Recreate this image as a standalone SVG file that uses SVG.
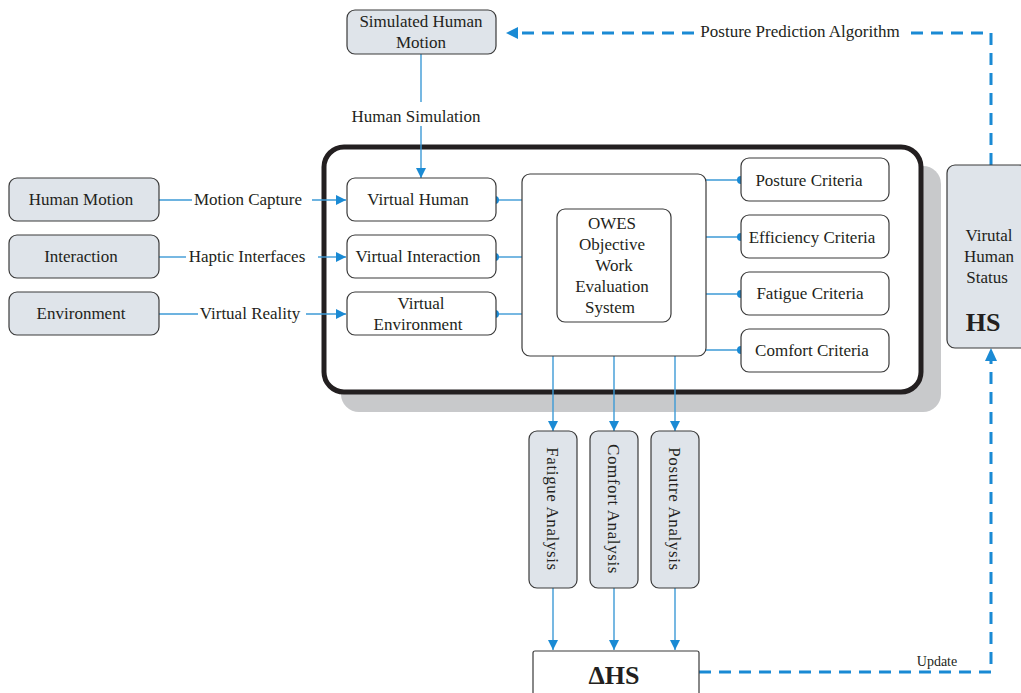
<svg xmlns="http://www.w3.org/2000/svg" width="1021" height="693" viewBox="0 0 1021 693">
<style>
text{font-family:"Liberation Serif","Times New Roman",serif;font-size:17px;fill:#231f20;text-anchor:middle}
.g{fill:#dfe4ea;stroke:#3a3a3a;stroke-width:1.2}
.w{fill:#fff;stroke:#3a3a3a;stroke-width:1.2}
.c{stroke:#3d9ad6;stroke-width:1.4;fill:none}
.d{stroke:#1a8ad4;stroke-width:3;fill:none;stroke-dasharray:12 8}
.dot{fill:#1a8ad4}
.b{font-weight:bold;font-size:26px}
</style>
<defs>
<marker id="a" viewBox="0 0 10 10" refX="10" refY="5" markerWidth="10" markerHeight="10" markerUnits="userSpaceOnUse" orient="auto"><path d="M0,0L10,5L0,10z" fill="#1a8ad4"/></marker>
</defs>
<rect width="1021" height="693" fill="#fff"/>
<g id="frame">
<rect x="341" y="166" width="600" height="246" rx="18" fill="#c8c9cb"/>
<rect x="324" y="147" width="597" height="245" rx="20" fill="#fff" stroke="#231f20" stroke-width="5"/>
</g>
<g id="connectors">
<line class="c" x1="421" y1="54" x2="421" y2="102"/>
<line class="c" x1="421" y1="126" x2="421" y2="178" marker-end="url(#a)"/>
<line class="c" x1="159" y1="200" x2="192" y2="200"/>
<line class="c" x1="312" y1="200" x2="346" y2="200" marker-end="url(#a)"/>
<line class="c" x1="159" y1="257" x2="186" y2="257"/>
<line class="c" x1="318" y1="257" x2="346" y2="257" marker-end="url(#a)"/>
<line class="c" x1="159" y1="314" x2="198" y2="314"/>
<line class="c" x1="306" y1="314" x2="346" y2="314" marker-end="url(#a)"/>
<line class="c" x1="496" y1="200" x2="522" y2="200"/>
<line class="c" x1="496" y1="257" x2="522" y2="257"/>
<line class="c" x1="496" y1="314" x2="522" y2="314"/>
<circle class="dot" cx="495" cy="200" r="4"/>
<circle class="dot" cx="495" cy="257" r="4"/>
<circle class="dot" cx="495" cy="314" r="4"/>
<line class="c" x1="706" y1="180" x2="741" y2="180"/>
<line class="c" x1="706" y1="237" x2="741" y2="237"/>
<line class="c" x1="706" y1="294" x2="741" y2="294"/>
<line class="c" x1="706" y1="350" x2="741" y2="350"/>
<circle class="dot" cx="741" cy="180" r="4"/>
<circle class="dot" cx="741" cy="237" r="4"/>
<circle class="dot" cx="741" cy="294" r="4"/>
<circle class="dot" cx="741" cy="350" r="4"/>
<line class="c" x1="553" y1="356" x2="553" y2="431" marker-end="url(#a)"/>
<line class="c" x1="614" y1="356" x2="614" y2="431" marker-end="url(#a)"/>
<line class="c" x1="675" y1="356" x2="675" y2="431" marker-end="url(#a)"/>
<line class="c" x1="553" y1="588" x2="553" y2="650" marker-end="url(#a)"/>
<line class="c" x1="614" y1="588" x2="614" y2="650" marker-end="url(#a)"/>
<line class="c" x1="675" y1="588" x2="675" y2="650" marker-end="url(#a)"/>
<path class="d" d="M991,165V33H910"/>
<line class="d" x1="694" y1="33" x2="516" y2="33"/>
<path d="M506,33L518,27L518,39z" fill="#1a8ad4"/>
<path class="d" d="M699,672H991V360"/>
<path d="M991,348L985,361L997,361z" fill="#1a8ad4"/>
<text x="800" y="37">Posture Prediction Algorithm</text>
<text x="937" y="666" style="font-size:14px">Update</text>
<text x="416" y="122">Human Simulation</text>
<text x="248" y="205">Motion Capture</text>
<text x="247" y="262">Haptic Interfaces</text>
<text x="250" y="319">Virtual Reality</text>
</g>
<g id="sim"><rect class="g" x="347" y="10" width="149" height="44" rx="8"/><text x="421" y="27">Simulated Human</text><text x="421" y="48">Motion</text></g>
<g id="hm"><rect class="g" x="9" y="178" width="150" height="43" rx="8"/><text x="81" y="205">Human Motion</text></g>
<g id="int"><rect class="g" x="9" y="235" width="150" height="43" rx="8"/><text x="81" y="262">Interaction</text></g>
<g id="env"><rect class="g" x="9" y="292" width="150" height="43" rx="8"/><text x="81" y="319">Environment</text></g>
<g id="vh"><rect class="w" x="347" y="178" width="149" height="43" rx="8"/><text x="418" y="205">Virtual Human</text></g>
<g id="vi"><rect class="w" x="347" y="235" width="149" height="43" rx="8"/><text x="418" y="262">Virtual Interaction</text></g>
<g id="ve"><rect class="w" x="347" y="292" width="149" height="43" rx="8"/><text x="421" y="309">Virtual</text><text x="418" y="330">Environment</text></g>
<g id="owes"><rect class="w" x="522" y="174" width="184" height="182" rx="8"/><rect class="w" x="557" y="209" width="114" height="113" rx="8"/>
<text x="612" y="229">OWES</text><text x="612" y="250">Objective</text><text x="614" y="271">Work</text><text x="612" y="292">Evaluation</text><text x="610" y="313">System</text></g>
<g id="pc"><rect class="w" x="741" y="158" width="148" height="43" rx="8"/><text x="809" y="186">Posture Criteria</text></g>
<g id="ec"><rect class="w" x="741" y="215" width="148" height="43" rx="8"/><text x="812" y="243">Efficiency Criteria</text></g>
<g id="fc"><rect class="w" x="741" y="272" width="148" height="43" rx="8"/><text x="810" y="299">Fatigue Criteria</text></g>
<g id="cc"><rect class="w" x="741" y="329" width="148" height="43" rx="8"/><text x="812" y="356">Comfort Criteria</text></g>
<g id="fa"><rect class="g" x="529" y="431" width="48" height="157" rx="8"/><text transform="translate(547,509) rotate(90)" style="letter-spacing:0.6px">Fatigue Analysis</text></g>
<g id="ca"><rect class="g" x="590" y="431" width="48" height="157" rx="8"/><text transform="translate(608,509) rotate(90)" style="letter-spacing:0.6px">Comfort Analysis</text></g>
<g id="pa"><rect class="g" x="651" y="431" width="48" height="157" rx="8"/><text transform="translate(669,509) rotate(90)" style="letter-spacing:0.6px">Posutre Analysis</text></g>
<g id="dhs"><rect class="w" x="533" y="651" width="166" height="50" rx="2"/><text class="b" x="614" y="684">ΔHS</text></g>
<g id="hs"><rect class="g" x="947" y="165" width="80" height="183" rx="8"/><text x="989" y="241">Virutal</text><text x="989" y="262">Human</text><text x="987" y="283">Status</text><text class="b" x="983" y="331">HS</text></g>
</svg>
